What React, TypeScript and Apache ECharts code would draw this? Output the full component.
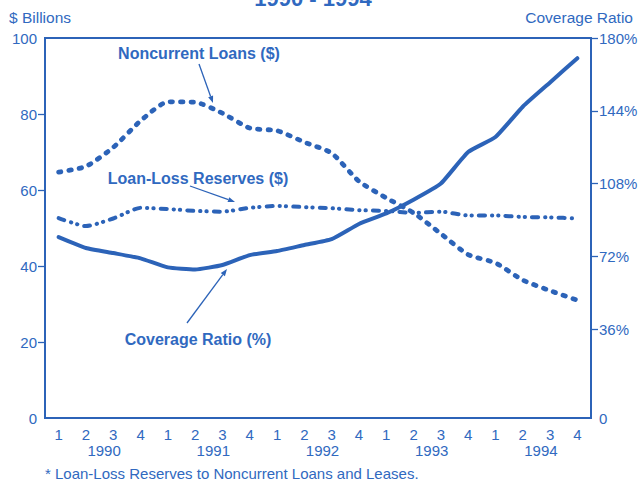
import React, { useEffect, useRef } from "react";
import * as echarts from "echarts";

const quarters = ["1","2","3","4","1","2","3","4","1","2","3","4","1","2","3","4","1","2","3","4"];
const years = ["1990", "1991", "1992", "1993", "1994"];
const noncurrentLoans = [64.7, 66.2, 71.2, 78.2, 83.2, 83.1, 80.2, 76.3, 75.6, 72.6, 69.7, 62.3, 57.9, 54.0, 48.5, 43.0, 40.8, 36.3, 33.5, 31.0];
const lossReserves = [52.6, 50.5, 52.5, 55.3, 55.0, 54.5, 54.3, 55.3, 55.8, 55.5, 55.2, 54.7, 54.5, 54.0, 54.3, 53.3, 53.3, 52.9, 52.8, 52.5];
const coverageRatio = [81.5, 76.1, 73.6, 71.0, 66.5, 65.5, 67.7, 72.6, 74.6, 77.6, 80.5, 88.0, 93.2, 100.0, 108.0, 123.6, 131.0, 146.0, 158.0, 170.0];
const leftTicks = [20, 40, 60, 80];
const rightLabelValues = [-8, 36, 72, 108, 144, 180];
const rightTickValues = [36, 72, 108, 144, 180];

const BLUE = "#2c63b8";
const TEXT = "#3069c0";
const FONT = "Liberation Sans, Arial, sans-serif";

export default function App() {
  const ref = useRef<HTMLDivElement>(null);
  useEffect(() => {
    if (!ref.current) return;
    const chart = echarts.init(ref.current, null, { renderer: "svg" });
    const arrow = (x1: number, y1: number, x2: number, y2: number) => {
      const dx = x2 - x1, dy = y2 - y1;
      const len = Math.sqrt(dx * dx + dy * dy);
      const ux = dx / len, uy = dy / len;
      const hl = 7, hw = 2.6;
      const bx = x2 - ux * hl, by = y2 - uy * hl;
      return [
        { type: "line", shape: { x1, y1, x2: bx, y2: by }, style: { stroke: BLUE, lineWidth: 1.3 } },
        {
          type: "polygon",
          shape: { points: [[x2, y2], [bx - uy * hw, by + ux * hw], [bx + uy * hw, by - ux * hw]] },
          style: { fill: BLUE },
        },
      ];
    };
    chart.setOption({
      animation: false,
      textStyle: { fontFamily: FONT },
      grid: { left: 45, right: 50, top: 38, bottom: 64, show: true, borderColor: BLUE, borderWidth: 2 },
      xAxis: [
        {
          type: "category",
          data: quarters,
          boundaryGap: true,
          axisLine: { lineStyle: { color: BLUE, width: 2 } },
          axisTick: { inside: true, alignWithLabel: true, length: 7, lineStyle: { color: BLUE, width: 1.3 } },
          axisLabel: { color: TEXT, fontSize: 15, margin: 9, fontFamily: FONT },
        },
        {
          type: "category",
          data: years,
          position: "bottom",
          offset: 17,
          boundaryGap: true,
          axisLine: { show: false },
          axisTick: { show: false },
          axisLabel: { color: TEXT, fontSize: 15, margin: 8, fontFamily: FONT, padding: [0, 0, 0, 9] },
        },
      ],
      yAxis: [
        {
          type: "value",
          min: 0,
          max: 100,
          interval: 20,
          splitLine: { show: false },
          axisLine: { show: true, lineStyle: { color: BLUE, width: 2 } },
          axisTick: { show: true, length: 7, customValues: leftTicks, lineStyle: { color: BLUE, width: 1.3 } },
          axisLabel: { color: TEXT, fontSize: 15, margin: 8, fontFamily: FONT },
        },
        {
          type: "value",
          position: "right",
          min: -8,
          max: 180,
          splitLine: { show: false },
          axisLine: { show: true, lineStyle: { color: BLUE, width: 2 } },
          axisTick: { show: true, length: 7, customValues: rightTickValues, lineStyle: { color: BLUE, width: 1.3 } },
          axisLabel: {
            color: TEXT,
            fontSize: 15,
            margin: 8,
            fontFamily: FONT,
            customValues: rightLabelValues,
            formatter: (v: number) => (v < 0 ? "0" : v + "%"),
          },
        },
      ],
      series: [
        {
          name: "Noncurrent Loans ($)",
          type: "line",
          data: noncurrentLoans,
          yAxisIndex: 0,
          symbol: "none",
          smooth: 0.2,
          lineStyle: { color: BLUE, width: 4.8, type: [2.4, 8], cap: "round" },
        },
        {
          name: "Loan-Loss Reserves ($)",
          type: "line",
          data: lossReserves,
          yAxisIndex: 0,
          symbol: "none",
          smooth: 0.2,
          lineStyle: { color: BLUE, width: 4, type: [6, 7, 0.3, 6, 0.3, 7], cap: "round" },
        },
        {
          name: "Coverage Ratio (%)",
          type: "line",
          data: coverageRatio,
          yAxisIndex: 1,
          symbol: "none",
          smooth: 0.15,
          lineStyle: { color: BLUE, width: 4, cap: "round", join: "round" },
        },
      ],
      graphic: [
        { type: "text", x: 313, y: -13, style: { text: "1990 - 1994", fill: TEXT, font: `bold 22px ${FONT}`, align: "center", verticalAlign: "top" } },
        { type: "text", x: 9, y: 9, style: { text: "$ Billions", fill: TEXT, font: `15.5px ${FONT}`, align: "left", verticalAlign: "top" } },
        { type: "text", x: 633, y: 9, style: { text: "Coverage Ratio", fill: TEXT, font: `15.5px ${FONT}`, align: "right", verticalAlign: "top" } },
        { type: "text", x: 199, y: 53, style: { text: "Noncurrent Loans ($)", fill: TEXT, font: `bold 16px ${FONT}`, align: "center", verticalAlign: "middle" } },
        { type: "text", x: 198, y: 178, style: { text: "Loan-Loss Reserves ($)", fill: TEXT, font: `bold 16px ${FONT}`, align: "center", verticalAlign: "middle" } },
        { type: "text", x: 198, y: 339, style: { text: "Coverage Ratio (%)", fill: TEXT, font: `bold 16px ${FONT}`, align: "center", verticalAlign: "middle" } },
        { type: "text", x: 45, y: 473.5, style: { text: "* Loan-Loss Reserves to Noncurrent Loans and Leases.", fill: TEXT, font: `15px ${FONT}`, align: "left", verticalAlign: "middle" } },
        ...arrow(199, 64, 213, 103),
        ...arrow(190, 186, 235, 202),
        ...arrow(187, 323, 227, 269),
      ],
    });
    return () => chart.dispose();
  }, []);
  return <div ref={ref} style={{ position: "fixed", left: 0, top: 0, width: 641, height: 482, background: "#fff" }} />;
}
